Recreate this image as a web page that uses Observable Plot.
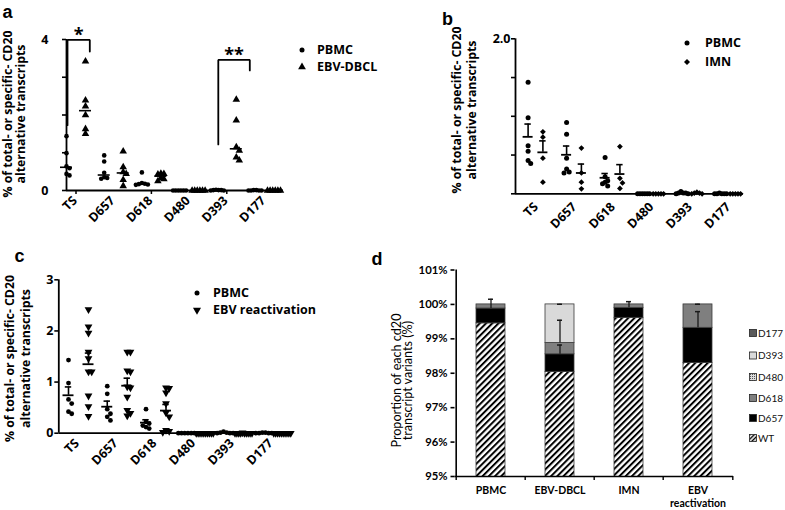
<!DOCTYPE html>
<html>
<head>
<meta charset="utf-8">
<script src="https://cdn.jsdelivr.net/npm/d3@7"></script>
<script src="https://cdn.jsdelivr.net/npm/@observablehq/plot@0.6"></script>
<style>
html,body{margin:0;padding:0;background:#fff;}
#fig{position:relative;width:785px;height:510px;overflow:hidden;background:#fff;}
.panel{position:absolute;}
</style>
</head>
<body>
<div id="fig"></div>
<script>
// ================= DATA =================
const categories = ["TS","D657","D618","D480","D393","D177"];

// Panel a: PBMC vs EBV-DBCL (median)
const aGroups = ["PBMC","EBV-DBCL"];
const aPBMC = [
  [1.44,0.99,0.64,0.59,0.44,0.40],
  [0.93,0.77,0.47,0.35,0.33,0.31],
  [0.48,0.20,0.18,0.17,0.16,0.15],
  [0,0,0,0,0,0],
  [0.02,0.01,0.01,0.01,0,0],
  [0.01,0.01,0,0,0,0]
];
const aEBVDBCL = [
  [3.42,2.39,2.23,2.00,1.63,1.50],
  [1.04,0.62,0.49,0.44,0.28,0.12],
  [0.45,0.44,0.43,0.33,0.30,0.25],
  [0,0,0,0,0,0],
  [2.41,1.86,1.15,1.06,0.88,0.80],
  [0,0,0,0,0,0]
];
const aSigCats = ["TS","D393"];
const aSigLabels = ["*","**"];
const aSigTop = [3.99,3.46];
const aSigLeftEnd = [1.73,1.22];
const aSigRightEnd = [3.68,3.18];

// Panel b: PBMC vs IMN (mean ± SEM)
const bGroups = ["PBMC","IMN"];
const bPBMC = [
  [1.44,0.98,0.62,0.55,0.43,0.39],
  [0.92,0.77,0.46,0.32,0.28,0.27],
  [0.47,0.22,0.17,0.15,0.13,0.10],
  [0,0,0,0,0,0],
  [0.03,0.01,0.01,0.01,0,0],
  [0.01,0,0,0,0,0]
];
const bIMN = [
  [0.80,0.73,0.46,0.15],
  [0.59,0.27,0.15,0.065],
  [0.61,0.20,0.14,0.07],
  [0,0,0,0,0],
  [0.02,0.01,0.01,0,0],
  [0,0,0,0,0]
];

// Panel c: PBMC vs EBV reactivation (mean ± SEM)
const cGroups = ["PBMC","EBV reactivation"];
const cPBMC = [
  [1.43,0.98,0.66,0.58,0.42,0.38],
  [0.92,0.77,0.47,0.38,0.32,0.25],
  [0.47,0.22,0.19,0.15,0.12,0.09],
  [0,0,0,0,0,0],
  [0.03,0.01,0.01,0,0,0],
  [0.01,0.01,0,0,0,0]
];
const cEBVr = [
  [2.42,2.08,1.96,1.59,1.46,1.20,1.20,0.73,0.52,0.33],
  [1.59,1.59,1.22,1.20,0.91,0.89,0.71,0.45,0.39,0.34],
  [0.89,0.88,0.79,0.58,0.40,0.32,0.06,0.04,0.02],
  [0,0,0,0,0,0,0,0,0,0],
  [0.01,0,0,0,0,0,0,0,0,0],
  [0,0,0,0,0,0,0,0,0,0]
];

// Panel d: stacked proportions (%)
const dGroups = ["PBMC","EBV-DBCL","IMN","EBV reactivation"];
const dSeries = ["WT","D657","D618","D480","D393","D177"];
const dWT   = [99.45, 98.04, 99.61, 98.30];
const dD657 = [0.43, 0.51, 0.29, 1.02];
const dD618 = [0.12, 0.33, 0.10, 0.68];
const dD480 = [0, 0, 0, 0];
const dD393 = [0, 1.12, 0, 0];
const dD177 = [0, 0, 0, 0];
const dErrD657 = [0.27, 0.27, 0.18, 0.47];
const dErrD618 = [null, 0.66, null, 0.005];
const dErrD393 = [null, 0.005, null, null];
const dTicks = [95,96,97,98,99,100,101];
const legendOrder = ["D177","D393","D480","D618","D657","WT"];

// ================= HELPERS =================
const fig = document.getElementById("fig");
const OPEN = '"Open Sans", sans-serif';
const LATO = 'Lato, sans-serif';
const sqrt3 = Math.sqrt(3);
const triangleDown = {draw(ctx, size) {
  const y = -Math.sqrt(size / (sqrt3 * 3));
  ctx.moveTo(0, -y * 2); ctx.lineTo(-sqrt3 * y, y); ctx.lineTo(sqrt3 * y, y); ctx.closePath();
}};

function spread(vals, ky, L) {
  const order = d3.range(vals.length).sort((i, j) => vals[j] - vals[i]);
  const placed = [], offs = new Array(vals.length).fill(0);
  for (const i of order) {
    const yi = vals[i] * ky;
    for (let k = 0; k < 60; k++) {
      const o = k === 0 ? 0 : (k % 2 ? 1 : -1) * Math.ceil(k / 2) * L.sx;
      if (placed.every(p => Math.abs(p.x - o) >= L.sx * 0.99 || Math.abs(p.y - yi) >= L.sy)) {
        offs[i] = o; placed.push({x: o, y: yi}); break;
      }
    }
  }
  const [lo, hi] = d3.extent(offs);
  if (hi - lo > L.maxW) {
    const c = (lo + hi) / 2, s = L.maxW / (hi - lo);
    for (let i = 0; i < offs.length; i++) offs[i] = (offs[i] - c) * s;
  }
  return offs;
}

function build(groupVals, L) {
  const ky = (L.h - L.mt - L.mb) / L.ymax;
  const pts = [], stats = [];
  groupVals.forEach((perCat, gi) => perCat.forEach((vals, ci) => {
    const cx = L.c0 + ci * L.step + (gi ? L.g : -L.g);
    const offs = spread(vals, ky, L);
    vals.forEach((v, k) => pts.push({gi, x: cx + offs[k], v}));
    const m = L.stat === "median" ? d3.median(vals) : d3.mean(vals);
    const sem = vals.length > 1 ? d3.deviation(vals) / Math.sqrt(vals.length) : 0;
    stats.push({gi, cx, m, hi: m + sem});
  }));
  return {pts, stats};
}

function place(svg, left, top, w, h) {
  const div = document.createElement("div");
  div.className = "panel";
  div.style.left = left + "px"; div.style.top = top + "px";
  div.style.width = w + "px"; div.style.height = h + "px";
  div.appendChild(svg);
  fig.appendChild(div);
  d3.select(svg).selectAll('g[aria-label="y-axis tick"]').attr("stroke-width", 1.6);
}

const baseStyle = (font) => ({background: "transparent", overflow: "visible", fontFamily: font, fontSize: "12.5px", fontWeight: "700", maxWidth: "none", color: "#000"});
const yTitle = "% of total- or specific- CD20\nalternative transcripts";
const TITLE_FS = 12.3, CAT_FS = 12.5;

// ================= PANEL A =================
const LA = {w:390,h:250,ml:66,mr:107,mt:39,mb:60,ymax:4,c0:9.5,step:37.7,g:9.5,sx:3,sy:4.5,maxW:13,stat:"median"};
const A = build([aPBMC, aEBVDBCL], LA);
const aRightPad = [4.3, 13.5];
const aBr = aSigCats.flatMap((c, i) => {
  const cx = LA.c0 + categories.indexOf(c) * LA.step;
  const xl = cx - LA.g + 1, xr = cx + LA.g + aRightPad[i];
  return [
    {id: i, x: xl, y: aSigLeftEnd[i]}, {id: i, x: xl, y: aSigTop[i]},
    {id: i, x: xr, y: aSigTop[i]}, {id: i, x: xr, y: aSigRightEnd[i]}
  ];
});
const aStars = aSigCats.map((c, i) => {
  const cx = LA.c0 + categories.indexOf(c) * LA.step;
  return {x: (cx - LA.g + 1 + cx + LA.g + aRightPad[i]) / 2, y: aSigTop[i], t: aSigLabels[i]};
});
const svgA = Plot.plot({
  width: LA.w, height: LA.h, marginLeft: LA.ml, marginRight: LA.mr, marginTop: LA.mt, marginBottom: LA.mb,
  style: baseStyle(OPEN),
  x: {domain: [0, LA.w - LA.ml - LA.mr], axis: null},
  y: {domain: [0, LA.ymax], ticks: [0,1,2,3,4], tickFormat: d => (d === 0 || d === 4) ? String(d) : "", tickSize: 4, tickPadding: 14, label: null},
  marks: [
    Plot.ruleY([0], {strokeWidth: 1.8}),
    Plot.ruleX([0], {strokeWidth: 1.8}),
    Plot.ruleX(["TS","D618","D393"], {x: c => LA.c0 + categories.indexOf(c) * LA.step, y1: 0, y2: 0, insetBottom: -4, strokeWidth: 1.5}),
    Plot.text(categories, {x: (d, i) => LA.c0 + i * LA.step, y: 0, text: d => d, rotate: -45, textAnchor: "end", dx: -1, dy: 8, fontSize: CAT_FS, fontWeight: 700}),
    Plot.dot(A.pts.filter(d => d.gi === 0), {x: "x", y: "v", r: 2.3, symbol: "circle", fill: "black", stroke: "none"}),
    Plot.dot(A.pts.filter(d => d.gi === 1), {x: "x", y: "v", r: 2.8, symbol: "triangle", fill: "black", stroke: "none"}),
    Plot.ruleY(A.stats, {y: "m", x1: d => d.cx - 6, x2: d => d.cx + 6, strokeWidth: 1.6}),
    Plot.line(aBr, {x: "x", y: "y", z: "id", strokeWidth: 1.8, strokeLinejoin: "miter"}),
    Plot.text(aStars, {x: "x", y: "y", text: "t", dy: -4.5, fontSize: 18, fontWeight: 700}),
    Plot.text([yTitle], {frameAnchor: "left", text: d => d, rotate: -90, textAnchor: "middle", lineAnchor: "middle", dx: -51.7, dy: -1, lineHeight: 1.05, fontSize: TITLE_FS, fontWeight: 700})
  ]
});
place(svgA, 0, 0, LA.w, LA.h);

// ================= PANEL B =================
const LB = {w:395,h:250,ml:125,mr:42,mt:38.3,mb:56.7,ymax:2,c0:20,step:38.5,g:7.4,sx:2.6,sy:5,maxW:12,stat:"mean"};
const B = build([bPBMC, bIMN], LB);
const svgB = Plot.plot({
  width: LB.w, height: LB.h, marginLeft: LB.ml, marginRight: LB.mr, marginTop: LB.mt, marginBottom: LB.mb,
  style: baseStyle(OPEN),
  x: {domain: [0, LB.w - LB.ml - LB.mr], axis: null},
  y: {domain: [0, LB.ymax], ticks: [0,0.5,1,1.5,2], tickFormat: d => d === 2 ? "2.0" : "", tickSize: 4, tickPadding: 1, label: null},
  marks: [
    Plot.ruleY([0], {strokeWidth: 1.8}),
    Plot.ruleX([0], {strokeWidth: 1.8}),
    Plot.text(categories, {x: (d, i) => LB.c0 + i * LB.step, y: 0, text: d => d, rotate: -45, textAnchor: "end", dx: 0.5, dy: 11, fontSize: CAT_FS, fontWeight: 700}),
    Plot.dot(B.pts.filter(d => d.gi === 0), {x: "x", y: "v", r: 2.5, symbol: "circle", fill: "black", stroke: "none"}),
    Plot.dot(B.pts.filter(d => d.gi === 1), {x: "x", y: "v", r: 2.6, symbol: "diamond2", fill: "black", stroke: "none"}),
    Plot.ruleX(B.stats, {x: "cx", y1: "m", y2: "hi", strokeWidth: 1.6}),
    Plot.ruleY(B.stats, {y: "hi", x1: d => d.cx - 3.2, x2: d => d.cx + 3.2, strokeWidth: 1.6}),
    Plot.ruleY(B.stats, {y: "m", x1: d => d.cx - 5, x2: d => d.cx + 5, strokeWidth: 1.8}),
    Plot.text([yTitle], {frameAnchor: "left", text: d => d, rotate: -90, textAnchor: "middle", lineAnchor: "middle", dx: -52, dy: -6.3, lineHeight: 1.2, fontSize: TITLE_FS, fontWeight: 700})
  ]
});
place(svgB, 390, 0, LB.w, LB.h);

// ================= PANEL C =================
const LC = {w:390,h:260,ml:58.3,mr:100,mt:29.3,mb:77.3,ymax:3,c0:19.7,step:38.75,g:10,sx:3.2,sy:5,maxW:17,stat:"mean"};
const C = build([cPBMC, cEBVr], LC);
const svgC = Plot.plot({
  width: LC.w, height: LC.h, marginLeft: LC.ml, marginRight: LC.mr, marginTop: LC.mt, marginBottom: LC.mb,
  style: baseStyle(OPEN),
  x: {domain: [0, LC.w - LC.ml - LC.mr], axis: null},
  y: {domain: [0, LC.ymax], ticks: [0,1,2,3], tickFormat: d => String(d), tickSize: 4, tickPadding: 1.5, label: null},
  marks: [
    Plot.ruleY([0], {strokeWidth: 1.8}),
    Plot.ruleX([0], {strokeWidth: 1.8}),
    Plot.text(categories, {x: (d, i) => LC.c0 + i * LC.step, y: 0, text: d => d, rotate: -45, textAnchor: "end", dx: -1.5, dy: 8, fontSize: CAT_FS, fontWeight: 700}),
    Plot.dot(C.pts.filter(d => d.gi === 0), {x: "x", y: "v", r: 2.4, symbol: "circle", fill: "black", stroke: "none"}),
    Plot.dot(C.pts.filter(d => d.gi === 1), {x: "x", y: "v", r: 2.9, symbol: triangleDown, fill: "black", stroke: "none"}),
    Plot.ruleX(C.stats, {x: "cx", y1: "m", y2: "hi", strokeWidth: 1.6}),
    Plot.ruleY(C.stats, {y: "hi", x1: d => d.cx - 3.2, x2: d => d.cx + 3.2, strokeWidth: 1.6}),
    Plot.ruleY(C.stats, {y: "m", x1: d => d.cx - 5.5, x2: d => d.cx + 5.5, strokeWidth: 1.8}),
    Plot.text([yTitle], {frameAnchor: "left", text: d => d, rotate: -90, textAnchor: "middle", lineAnchor: "middle", dx: -42, dy: 2, lineHeight: 1.3, fontSize: TITLE_FS, fontWeight: 700})
  ]
});
place(svgC, 0, 250, LC.w, LC.h);

// ================= PANEL D =================
const LD = {w:395,h:260,ml:64.5,mr:52,mt:19.5,mb:34};
const stepD = (LD.w - LD.ml - LD.mr) / dGroups.length;
const dVals = [dWT, dD657, dD618, dD480, dD393, dD177];
const dErrs = {D657: dErrD657, D618: dErrD618, D393: dErrD393};
const dFill = {WT: "url(#hatchD)", D657: "#000000", D618: "#7f7f7f", D480: "url(#dotsD)", D393: "#d9d9d9", D177: "#5a5a5a"};
const dRows = [], errRows = [];
dSeries.forEach((s, si) => dVals[si].forEach((v, gi) => { if (v > 0) dRows.push({s, g: dGroups[gi], v}); }));
dGroups.forEach((g, gi) => {
  let acc = 0;
  dSeries.forEach((s, si) => {
    acc += dVals[si][gi];
    const e = dErrs[s] ? dErrs[s][gi] : null;
    if (e != null) errRows.push({g, top: acc, hi: acc + e});
  });
});
function defsD() {
  const defs = d3.create("svg:defs");
  const p = defs.append("pattern").attr("id", "hatchD").attr("patternUnits", "userSpaceOnUse")
    .attr("width", 4.4).attr("height", 4.4).attr("patternTransform", "rotate(45)");
  p.append("rect").attr("width", 4.4).attr("height", 4.4).attr("fill", "#fff");
  p.append("rect").attr("width", 2).attr("height", 4.4).attr("fill", "#000");
  const q = defs.append("pattern").attr("id", "dotsD").attr("patternUnits", "userSpaceOnUse").attr("width", 2).attr("height", 2);
  q.append("rect").attr("width", 2).attr("height", 2).attr("fill", "#ddd");
  q.append("rect").attr("width", 1).attr("height", 1).attr("fill", "#555");
  return defs.node();
}
const svgD = Plot.plot({
  width: LD.w, height: LD.h, marginLeft: LD.ml, marginRight: LD.mr, marginTop: LD.mt, marginBottom: LD.mb,
  style: baseStyle(LATO),
  x: {domain: dGroups, paddingInner: 0.583, paddingOuter: 0.2915, axis: null},
  y: {domain: [95, 101], ticks: dTicks, tickFormat: d => d + "%", tickSize: 4, tickPadding: 3.5, label: null},
  color: {domain: dSeries, range: dSeries.map(s => dFill[s])},
  marks: [
    defsD,
    Plot.barY(dRows, Plot.stackY({x: "g", y: "v", fill: "s", stroke: "#3a3a3a", strokeWidth: 0.8, clip: true})),
    Plot.ruleX(errRows, {x: "g", y1: "top", y2: "hi", stroke: "#1a1a1a", strokeWidth: 1.3}),
    Plot.tickY(errRows, {x: "g", y: "hi", insetLeft: 12, insetRight: 12, stroke: "#1a1a1a", strokeWidth: 1.5}),
    Plot.ruleY([95], {strokeWidth: 1.6}),
    Plot.ruleX([dGroups[0]], {x: d => d, dx: -stepD / 2, strokeWidth: 1.6}),
    Plot.ruleX(dGroups, {x: d => d, dx: -stepD / 2, y1: 95, y2: 95, insetBottom: -4, strokeWidth: 1.4}),
    Plot.ruleX([dGroups[dGroups.length - 1]], {x: d => d, dx: stepD / 2, y1: 95, y2: 95, insetBottom: -4, strokeWidth: 1.4}),
    Plot.text(dGroups, {x: d => d, y: 95, text: d => d.replace(" ", "\n"), lineAnchor: "top", dy: 8, lineHeight: 1.24, fontSize: 10.5, fontWeight: 700}),
    Plot.text(["Proportion of each cd20\ntranscript variants (%)"], {frameAnchor: "left", text: d => d, rotate: -90, textAnchor: "middle", lineAnchor: "middle", dx: -52.3, dy: 7.3, lineHeight: 0.92, fontSize: 12.6, fontWeight: 400})
  ]
});
d3.select(svgD).selectAll('g[aria-label="y-axis tick label"]').attr("font-size", 11.3);
place(svgD, 390, 250, LD.w, LD.h);

// ================= OVERLAY: panel letters & legends =================
const ov = d3.select(fig).append("svg").attr("width", 785).attr("height", 510)
  .style("position", "absolute").style("left", "0px").style("top", "0px");
const letters = [["a", 2.5, 18], ["b", 442, 25], ["c", 14.5, 262], ["d", 371.5, 265]];
ov.selectAll("text.lt").data(letters).join("text").attr("class", "lt")
  .attr("x", d => d[1]).attr("y", d => d[2]).text(d => d[0])
  .attr("font-family", '"Liberation Sans", Arial, sans-serif').attr("font-weight", 700).attr("font-size", 18);

function legendItem(cx, cy, type, r, label, tx) {
  ov.append("path").attr("transform", `translate(${cx},${cy})`)
    .attr("d", d3.symbol().type(type).size(Math.PI * r * r)()).attr("fill", "#000");
  ov.append("text").attr("x", tx).attr("y", cy + 4.4).text(label)
    .attr("font-family", OPEN).attr("font-weight", 700).attr("font-size", 12.5);
}
legendItem(302, 50, d3.symbolCircle, 2.5, aGroups[0], 317);
legendItem(302, 67, d3.symbolTriangle, 2.9, aGroups[1], 317);
legendItem(687, 43, d3.symbolCircle, 2.5, bGroups[0], 705);
legendItem(687, 62, d3.symbolDiamond2, 2.7, bGroups[1], 705);
legendItem(197, 293, d3.symbolCircle, 2.5, cGroups[0], 213);
legendItem(197, 310, triangleDown, 3.0, cGroups[1], 213);

// legend d
const ldefs = ov.append("defs");
const lp = ldefs.append("pattern").attr("id", "hatchL").attr("patternUnits", "userSpaceOnUse")
  .attr("width", 3).attr("height", 3).attr("patternTransform", "rotate(45)");
lp.append("rect").attr("width", 3).attr("height", 3).attr("fill", "#fff");
lp.append("rect").attr("width", 1.4).attr("height", 3).attr("fill", "#000");
const lq = ldefs.append("pattern").attr("id", "dotsL").attr("patternUnits", "userSpaceOnUse").attr("width", 2).attr("height", 2);
lq.append("rect").attr("width", 2).attr("height", 2).attr("fill", "#ddd");
lq.append("rect").attr("width", 1).attr("height", 1).attr("fill", "#555");
const legFill = {WT: "url(#hatchL)", D657: "#000", D618: "#7f7f7f", D480: "url(#dotsL)", D393: "#d9d9d9", D177: "#5a5a5a"};
const legY = [333, 355.5, 377, 398, 418, 438];
legendOrder.forEach((s, i) => {
  ov.append("rect").attr("x", 749.5).attr("y", legY[i] - 3.5).attr("width", 7).attr("height", 7)
    .attr("fill", legFill[s]).attr("stroke", "#222").attr("stroke-width", 0.8);
  ov.append("text").attr("x", 758).attr("y", legY[i] + 3.6).text(s)
    .attr("font-family", LATO).attr("font-size", 10).attr("fill", "#111");
});
</script>
</body>
</html>
